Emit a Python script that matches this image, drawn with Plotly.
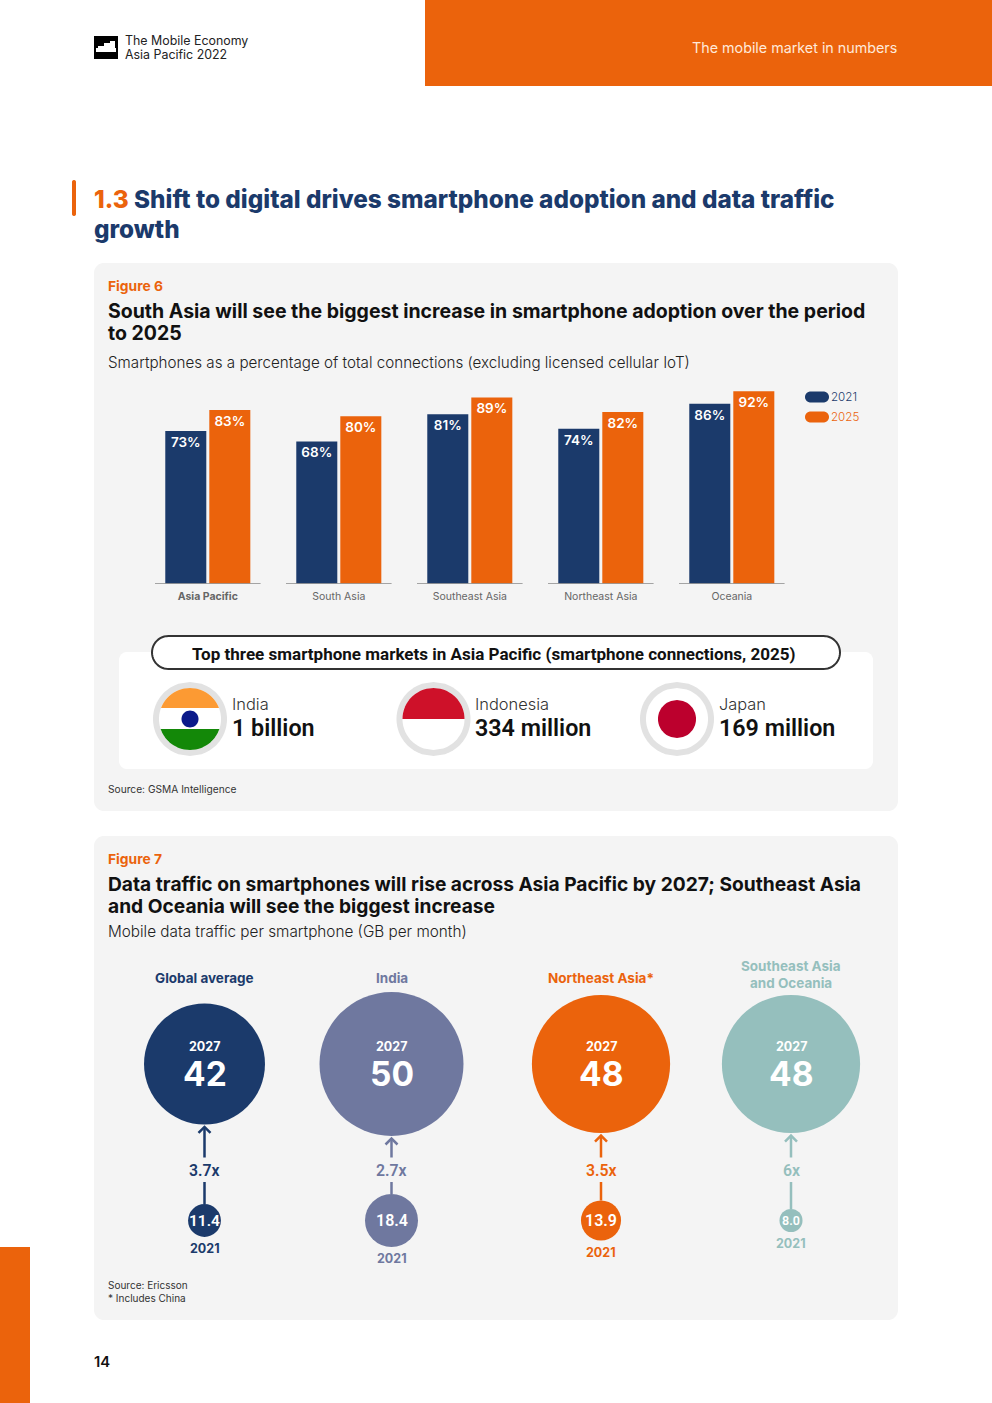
import math
import plotly.graph_objects as go

W, H = 992, 1403
NAVY, ORANGE, SLATE, TEAL = "#1b3a6b", "#eb630c", "#6f789f", "#95bfbd"
PANEL = "#f4f4f4"
BODY, COND = "Inter", "Roboto"

# ---- Figure 6 data
markets = ["Asia Pacific", "South Asia", "Southeast Asia", "Northeast Asia", "Oceania"]
adoption_2021 = [73, 68, 81, 74, 86]
adoption_2025 = [83, 80, 89, 82, 92]
top_names = ["India", "Indonesia", "Japan"]
top_values = ["1 billion", "334 million", "169 million"]

# ---- Figure 7 data
regions = ["Global average", "India", "Northeast Asia*", "Southeast Asia and Oceania"]
years = ["2021", "2027"]
traffic_2021 = [11.4, 18.4, 13.9, 8.0]
traffic_2027 = [42, 50, 48, 48]
multiples = ["3.7x", "2.7x", "3.5x", "6x"]
region_colors = [NAVY, SLATE, ORANGE, TEAL]

# ---- Layout constants (pixels)
region_cx = [204.5, 391.5, 601, 791]
small_label_size = [15.5, 16, 16, 12.5]
PX_PER_GB = 2.88
Y27, Y21 = 1064, 1220.5


def X(p): return p / W
def Y(p): return 1 - p / H


shapes, notes = [], []


def rect(x0, y0, x1, y1, color, layer="below"):
    shapes.append(dict(type="rect", xref="paper", yref="paper", x0=X(x0), x1=X(x1), y0=Y(y0), y1=Y(y1),
                       fillcolor=color, line_width=0, layer=layer))


def path(points, fill=None, line=None, lw=0, close=True, layer="below"):
    d = "M " + " L ".join(f"{X(a):.5f},{Y(b):.5f}" for a, b in points) + (" Z" if close else "")
    shapes.append(dict(type="path", xref="paper", yref="paper", path=d, fillcolor=fill or "rgba(0,0,0,0)",
                       line=dict(color=line or "rgba(0,0,0,0)", width=lw), layer=layer))


def rrect(x0, y0, x1, y1, r):
    pts = []
    for cx, cy, a0 in ((x1 - r, y0 + r, -90), (x1 - r, y1 - r, 0), (x0 + r, y1 - r, 90), (x0 + r, y0 + r, 180)):
        for k in range(13):
            a = math.radians(a0 + 7.5 * k)
            pts.append((cx + r * math.cos(a), cy + r * math.sin(a)))
    return pts


def disc(cx, cy, r, ytop=None, ybot=None):
    ytop = cy - r if ytop is None else ytop
    ybot = cy + r if ybot is None else ybot
    n, L, R = 40, [], []
    for k in range(n + 1):
        y = ytop + (ybot - ytop) * k / n
        dx = math.sqrt(max(r * r - (y - cy) ** 2, 0))
        R.append((cx + dx, y))
        L.append((cx - dx, y))
    return R + L[::-1]


def note(x, y, text, size, color="#1a1a1a", font=BODY, anchor="left", weight=400):
    if anchor == "left":
        x -= 2.5
    elif anchor == "right":
        x += 2
    notes.append(dict(xref="paper", yref="paper", x=X(x), y=Y(y), text=text, showarrow=False, xanchor=anchor,
                      yanchor="middle", font=dict(family=font, size=size, color=color, weight=weight), align=anchor))


# ---- Page furniture
rect(425, 0, 992, 86, ORANGE)
rect(0, 1247, 30, 1403, ORANGE)
rect(94, 36, 118, 59, "#000000")
path([(98, 46), (104, 46), (104, 43), (110, 43), (110, 41), (115, 41), (115, 48), (116, 48), (116, 52), (96, 52),
      (96, 48), (98, 48)], fill="#ffffff")
note(125, 41, "The Mobile Economy", 12.4, "#222222")
note(125, 54, "Asia Pacific 2022", 12.4, "#222222")
note(897, 47, "The mobile market in numbers", 14.3, "#ffe9da", anchor="right")
path(rrect(72, 180, 76, 216, 2), fill=ORANGE)
note(94, 199, f'<span style="color:{ORANGE}">1.3</span> Shift to digital drives smartphone adoption and data traffic',
     24.3, NAVY, weight=800)
note(94, 229, "growth", 24.3, NAVY, weight=800)
note(94, 1361.5, "14", 14.8, "#111111", weight=600)

# ---- Figure 6 panel
path(rrect(94, 263, 898, 811, 10), fill=PANEL)
note(108.5, 286, "Figure 6", 13.8, ORANGE, weight=700)
note(108.5, 310.5, "South Asia will see the biggest increase in smartphone adoption over the period", 19.5, "#111111", weight=700)
note(108.5, 332.5, "to 2025", 19.5, "#111111", weight=700)
note(108.5, 362.5, "Smartphones as a percentage of total connections (excluding licensed cellular IoT)", 15.2, "#222222", weight=300)

# axis baseline per group, in category units on the bar axis
for i in range(len(markets)):
    shapes.append(dict(type="line", xref="x", yref="y", x0=i - 0.403, x1=i + 0.403, y0=0, y1=0,
                       line=dict(color="#555555", width=1), layer="above"))

# legend
for yy, col, lab in ((397, NAVY, "2021"), (417, ORANGE, "2025")):
    path(rrect(805, yy - 5.5, 829, yy + 5.5, 5.5), fill=col)
    note(831, yy, lab, 11.6, col, weight=300)

# Top-three box
path(rrect(119, 652, 873, 769, 8), fill="#ffffff")
path(rrect(152, 636, 840, 669, 16.5), fill="#ffffff", line="#333333", lw=2)
note(494, 654, "Top three smartphone markets in Asia Pacific (smartphone connections, 2025)", 17.05, "#111111",
     font=COND, weight=700, anchor="center")
flag_cx = [190, 433.5, 677]
text_x = [232, 475.5, 719]
for cx in flag_cx:
    path(disc(cx, 719, 37), fill="#e2e2e2")
    path(disc(cx, 719, 31), fill="#ffffff")
path(disc(190, 719, 31, 688, 708), fill="#fc9a33")
path(disc(190, 719, 31, 729, 750), fill="#138808")
path(disc(190, 719, 8.5), fill="#0b1a8a")
path(disc(433.5, 719, 31, 688, 719), fill="#ce1129")
path(disc(677, 719, 19), fill="#bc002d")
for x, n, v in zip(text_x, top_names, top_values):
    note(x, 704, n, 16.4, "#333333", weight=300)
    note(x, 728, v, 23.3, "#111111", font=COND, weight=600)
note(108.5, 789, "Source: GSMA Intelligence", 10.2, "#333333")

# ---- Figure 7 panel
path(rrect(94, 836, 898, 1320, 10), fill=PANEL)
note(108.5, 859, "Figure 7", 13.8, ORANGE, weight=700)
note(108.5, 884, "Data traffic on smartphones will rise across Asia Pacific by 2027; Southeast Asia", 19.2, "#111111", weight=700)
note(108.5, 906, "and Oceania will see the biggest increase", 19.2, "#111111", weight=700)
note(108.5, 931.5, "Mobile data traffic per smartphone (GB per month)", 15.3, "#222222", weight=300)
note(108.5, 1284.5, "Source: Ericsson", 10, "#333333")
note(108.5, 1297.5, "* Includes China", 10, "#333333")

note(region_cx[0], 978, "Global average", 13.5, NAVY, weight=700, anchor="center")
note(region_cx[1], 978, "India", 13.5, SLATE, weight=700, anchor="center")
note(region_cx[2], 978, "Northeast Asia*", 13.5, ORANGE, weight=700, anchor="center")
note(region_cx[3], 965.5, "Southeast Asia", 13.5, TEAL, weight=700, anchor="center")
note(region_cx[3], 982.5, "and Oceania", 13.5, TEAL, weight=700, anchor="center")

fig = go.Figure()
# ---- Bars
fig.add_trace(go.Bar(name="2021", x=markets, y=adoption_2021, marker=dict(color=NAVY, line_width=0),
                     text=[f"{v}%" for v in adoption_2021], showlegend=False))
fig.add_trace(go.Bar(name="2025", x=markets, y=adoption_2025, marker=dict(color=ORANGE, line_width=0),
                     text=[f"{v}%" for v in adoption_2025], showlegend=False))
fig.update_traces(textposition="inside", insidetextanchor="end", textangle=0,
                  textfont=dict(family=BODY, size=13.5, color="#ffffff", weight=600), constraintext="none")

# ---- Bubbles
IDX21, IDX27 = years.index("2021"), years.index("2027")
for i, region in enumerate(regions):
    ax = f"x{i + 2}"
    col = region_colors[i]
    fig.add_trace(go.Scatter(
        name=region, x=[region, region], y=years, xaxis=ax, yaxis="y2", mode="markers",
        marker=dict(size=[traffic_2021[i], traffic_2027[i]], sizemode="diameter", sizeref=1 / PX_PER_GB,
                    color=col, opacity=1, line_width=0),
        cliponaxis=False, showlegend=False))
    cx = region_cx[i]
    r27 = traffic_2027[i] * PX_PER_GB / 2
    r21 = traffic_2021[i] * PX_PER_GB / 2
    common = dict(xref=ax, yref="y2", x=0, showarrow=False)
    notes.append(dict(common, y=IDX27, yshift=18, text="2027",
                      font=dict(family=BODY, size=12.5, color="#ffffff", weight=700)))
    notes.append(dict(common, y=IDX27, yshift=-10, text=str(traffic_2027[i]),
                      font=dict(family=BODY, size=33.5, color="#ffffff", weight=700)))
    notes.append(dict(common, y=IDX21, yshift=0, text=f"{traffic_2021[i]:.1f}",
                      font=dict(family=COND, size=small_label_size[i], color="#ffffff", weight=600)))
    notes.append(dict(common, y=IDX21, yshift=-(r21 + 11.7), text="2021",
                      font=dict(family=BODY, size=12.5, color=col, weight=700)))
    note(cx, 1170, multiples[i], 15.8, col, font=COND, weight=600, anchor="center")
    tip = Y27 + r27 + 2
    path([(cx, tip + 1), (cx, 1157.5)], line=col, lw=2.5, close=False)
    path([(cx - 6, tip + 6.5), (cx, tip + 0.5), (cx + 6, tip + 6.5)], line=col, lw=2.5, close=False)
    path([(cx, 1182), (cx, Y21 - r21)], line=col, lw=2.5, close=False)

layout_axes = dict(
    xaxis=dict(domain=[X(142.3), X(797.3)], range=[-0.5, 4.5], type="category", categoryorder="array", categoryarray=markets,
               tickmode="array", tickvals=markets,
               ticktext=[f"<b>{markets[0]}</b>"] + markets[1:], tickfont=dict(family=BODY, size=10.5, color="#666666"),
               ticklen=0, showline=False, showgrid=False, zeroline=False, ticklabelstandoff=5, fixedrange=True),
    yaxis=dict(domain=[Y(583.5), Y(374.5)], range=[0, 100], visible=False, fixedrange=True),
    yaxis2=dict(domain=[Y(1298.75), Y(985.75)], type="category", categoryorder="array", categoryarray=years,
                range=[-0.5, 1.5], visible=False, anchor="x2"),
)
for i, region in enumerate(regions):
    layout_axes[f"xaxis{i + 2}"] = dict(domain=[X(region_cx[i] - 90), X(region_cx[i] + 90)], type="category",
                                        range=[-0.5, 0.5], visible=False, anchor="y2")

fig.update_layout(width=W, height=H, margin=dict(l=0, r=0, t=0, b=0, pad=0), paper_bgcolor="#ffffff",
                  plot_bgcolor="rgba(0,0,0,0)", barmode="group", bargap=0.328, bargroupgap=0.068,
                  shapes=shapes, annotations=notes, **layout_axes)

fig.write_html("out.html", config=dict(displayModeBar=False),
               post_script="document.body.style.margin='0';document.documentElement.style.overflow='hidden';")
